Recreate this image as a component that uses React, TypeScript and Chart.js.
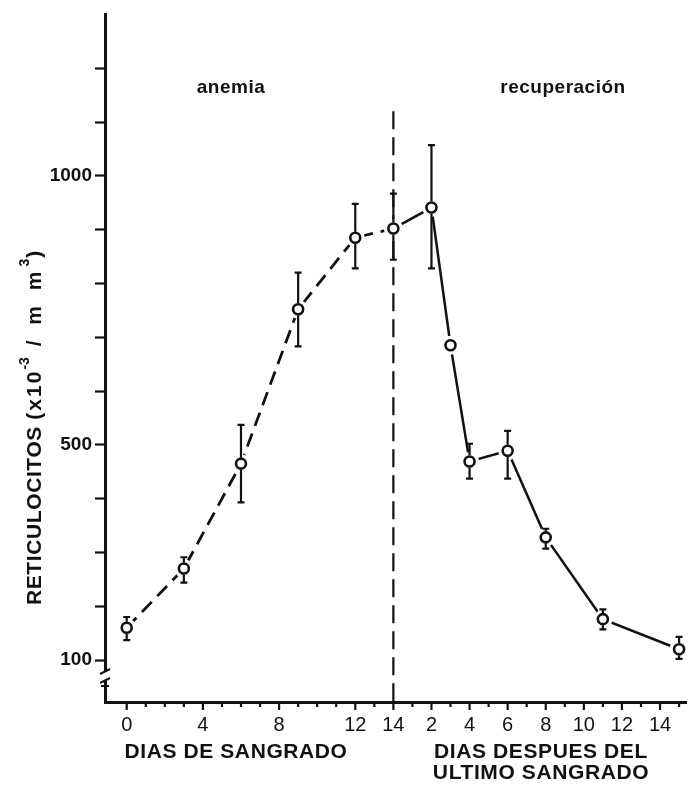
import React, { useEffect, useRef } from 'react';
import { Chart, registerables } from 'chart.js';

Chart.register(...registerables);

// ---- data ----
const bleedDays = [0, 3, 6, 9, 12, 14];
const bleedValues = [160, 270, 465, 752, 885, 902];
const bleedErrHigh = [180, 291, 537, 820, 948, 967];
const bleedErrLow = [137, 244, 393, 683, 828, 844];

const recoveryDays = [0, 2, 3, 4, 6, 8, 11, 15];
const recoveryValues = [902, 941, 685, 469, 489, 328, 176, 120];
const recoveryErrHigh: (number | null)[] = [null, 1057, null, 502, 526, 344, 194, 143];
const recoveryErrLow: (number | null)[] = [null, 828, null, 437, 437, 307, 157, 102];

const BLEED_LENGTH = 14; // recovery day 0 coincides with bleeding day 14
const bleedTickLabels = [0, 4, 8, 12, 14];
const recoveryTickLabels = [2, 4, 6, 8, 10, 12, 14];
const yTickLabels = [100, 500, 1000];
const Y_MIN = 22;
const Y_MAX = 1300;
const X_MIN = -1.14;
const X_MAX = 29.39;
const DIVIDER_TOP = 1120;
const phaseLabels = ['anemia', 'recuperación'];
const xTitleLeft = ['DIAS DE SANGRADO'];
const xTitleRight = ['DIAS DESPUES DEL', 'ULTIMO SANGRADO'];
const yTitleMain = 'RETICULOCITOS ';

const FONT = '"Liberation Sans", Arial, sans-serif';
const INK = '#111';

function xLabelFor(v: number): string {
  if (v <= BLEED_LENGTH) return bleedTickLabels.includes(v) ? String(v) : '';
  const r = v - BLEED_LENGTH;
  return recoveryTickLabels.includes(r) ? String(r) : '';
}

const decorPlugin = {
  id: 'decor',
  beforeDatasetsDraw(chart: any) {
    const { ctx, scales } = chart;
    const x = scales.x.getPixelForValue(BLEED_LENGTH);
    ctx.save();
    ctx.strokeStyle = INK;
    ctx.lineWidth = 2.2;
    ctx.setLineDash([18, 8]);
    ctx.beginPath();
    ctx.moveTo(x, scales.y.getPixelForValue(DIVIDER_TOP));
    ctx.lineTo(x, chart.chartArea.bottom);
    ctx.stroke();
    ctx.restore();
  },
  afterDatasetsDraw(chart: any) {
    const { ctx, scales } = chart;
    const xs = scales.x;
    const ys = scales.y;
    const r = 6;
    const drawErr = (xv: number, v: number, hi: number | null, lo: number | null) => {
      if (hi == null || lo == null) return;
      const px = xs.getPixelForValue(xv);
      const py = ys.getPixelForValue(v);
      const ph = ys.getPixelForValue(hi);
      const pl = ys.getPixelForValue(lo);
      ctx.beginPath();
      ctx.moveTo(px, py - r);
      ctx.lineTo(px, ph);
      ctx.moveTo(px - 3.5, ph);
      ctx.lineTo(px + 3.5, ph);
      ctx.moveTo(px, py + r);
      ctx.lineTo(px, pl);
      ctx.moveTo(px - 3.5, pl);
      ctx.lineTo(px + 3.5, pl);
      ctx.stroke();
    };
    ctx.save();
    ctx.strokeStyle = INK;
    ctx.lineWidth = 2.2;
    bleedDays.forEach((d, i) => drawErr(d, bleedValues[i], bleedErrHigh[i], bleedErrLow[i]));
    recoveryDays.forEach((d, i) =>
      drawErr(d + BLEED_LENGTH, recoveryValues[i], recoveryErrHigh[i], recoveryErrLow[i])
    );
    ctx.restore();
  },
  afterDraw(chart: any) {
    const { ctx, scales, chartArea } = chart;
    const xs = scales.x;
    const axisX = chartArea.left;
    const axisY = chartArea.bottom;
    ctx.save();
    ctx.strokeStyle = INK;
    ctx.fillStyle = INK;

    // x tick marks
    ctx.lineWidth = 2.2;
    for (let v = 0; v <= 29; v++) {
      const px = xs.getPixelForValue(v);
      const len = xLabelFor(v) ? 8 : 5;
      ctx.beginPath();
      ctx.moveTo(px, axisY);
      ctx.lineTo(px, axisY + len);
      ctx.stroke();
    }

    // y axis break
    ctx.fillStyle = '#fff';
    ctx.fillRect(axisX - 3, 672, 6, 9);
    ctx.fillStyle = INK;
    ctx.lineWidth = 2;
    ctx.beginPath();
    ctx.moveTo(axisX - 5, 674);
    ctx.lineTo(axisX + 5, 669);
    ctx.moveTo(axisX - 5, 683);
    ctx.lineTo(axisX + 5, 678);
    ctx.moveTo(axisX - 4, 686);
    ctx.lineTo(axisX + 4, 686);
    ctx.stroke();

    // phase labels
    ctx.textAlign = 'center';
    ctx.textBaseline = 'middle';
    ctx.font = `bold 19px ${FONT}`;
    (ctx as any).letterSpacing = '0.5px';
    ctx.fillText(phaseLabels[0], 231, 88);
    ctx.fillText(phaseLabels[1], 563, 88);

    // x titles
    ctx.font = `bold 21px ${FONT}`;
    (ctx as any).letterSpacing = '0.6px';
    ctx.fillText(xTitleLeft[0], 236, 752);
    ctx.fillText(xTitleRight[0], 541, 752);
    ctx.fillText(xTitleRight[1], 541, 773);

    // y title
    ctx.translate(35, 605);
    ctx.rotate(-Math.PI / 2);
    ctx.textAlign = 'left';
    ctx.textBaseline = 'middle';
    let cx = 0;
    const piece = (t: string, font: string, dy: number, spacing: string) => {
      ctx.font = font;
      (ctx as any).letterSpacing = spacing;
      ctx.fillText(t, cx, dy);
      cx += ctx.measureText(t).width;
    };
    piece(yTitleMain, `bold 21px ${FONT}`, 0, '0.6px');
    piece('(x10', `bold 21px ${FONT}`, 0, '2px');
    piece('-3', `bold 14px ${FONT}`, -10, '0px');
    piece(' / m m', `bold 21px ${FONT}`, 0, '5px');
    piece('3', `bold 14px ${FONT}`, -10, '1px');
    piece(')', `bold 21px ${FONT}`, 0, '0px');
    ctx.restore();
  },
};

export default function App() {
  const canvasRef = useRef<HTMLCanvasElement | null>(null);

  useEffect(() => {
    if (!canvasRef.current) return;
    const bleedPoints = bleedDays.map((d, i) => ({ x: d, y: bleedValues[i] }));
    const recPoints = recoveryDays.map((d, i) => ({ x: d + BLEED_LENGTH, y: recoveryValues[i] }));
    const allPoints = [...bleedPoints, ...recPoints.slice(1)];

    const chart = new Chart(canvasRef.current, {
      type: 'scatter',
      data: {
        datasets: [
          {
            label: 'anemia',
            data: bleedPoints,
            showLine: true,
            borderColor: INK,
            borderWidth: 2.8,
            borderDash: [14, 8],
            pointRadius: 0,
            tension: 0,
            order: 3,
          },
          {
            label: 'recuperación',
            data: recPoints,
            showLine: true,
            borderColor: INK,
            borderWidth: 2.5,
            pointRadius: 0,
            tension: 0,
            order: 3,
          },
          {
            label: 'halo',
            data: allPoints,
            showLine: false,
            pointRadius: 9.5,
            pointBorderWidth: 0,
            pointBackgroundColor: '#fff',
            pointBorderColor: '#fff',
            order: 2,
          },
          {
            label: 'markers',
            data: allPoints,
            showLine: false,
            pointRadius: 5,
            pointBorderWidth: 2.6,
            pointBorderColor: INK,
            pointBackgroundColor: '#fff',
            order: 1,
          },
        ],
      } as any,
      options: {
        animation: false,
        responsive: false,
        devicePixelRatio: 1,
        events: [],
        layout: { padding: { top: 12, left: 0, right: 0, bottom: 0 } },
        plugins: {
          legend: { display: false },
          tooltip: { enabled: false },
        },
        scales: {
          x: {
            type: 'linear',
            min: X_MIN,
            max: X_MAX,
            afterFit: (s: any) => {
              s.height = 86;
            },
            grid: { drawOnChartArea: false, drawTicks: false },
            border: { display: true, color: INK, width: 3 },
            ticks: {
              stepSize: 1,
              autoSkip: false,
              maxRotation: 0,
              minRotation: 0,
              includeBounds: false,
              padding: 11,
              color: INK,
              font: { family: FONT, size: 20 },
              callback: (v: any) => xLabelFor(Number(v)),
            },
          },
          y: {
            type: 'linear',
            min: Y_MIN,
            max: Y_MAX,
            afterFit: (s: any) => {
              s.width = 105;
            },
            grid: {
              drawOnChartArea: false,
              drawTicks: true,
              tickLength: 10,
              tickWidth: 2.2,
              tickColor: (c: any) => (c.tick && c.tick.value > 1250 ? 'rgba(0,0,0,0)' : INK),
            },
            border: { display: true, color: INK, width: 3 },
            ticks: {
              stepSize: 100,
              includeBounds: false,
              autoSkip: false,
              padding: 3,
              color: INK,
              font: { family: FONT, size: 19, weight: 'bold' },
              callback: (v: any) => (yTickLabels.includes(Number(v)) ? String(v) : ''),
            },
          },
        },
      } as any,
      plugins: [decorPlugin],
    });
    return () => chart.destroy();
  }, []);

  return (
    <div style={{ position: 'fixed', left: 0, top: 0, width: 696, height: 788, background: '#fff' }}>
      <canvas ref={canvasRef} width={696} height={788} style={{ display: 'block' }} />
    </div>
  );
}
